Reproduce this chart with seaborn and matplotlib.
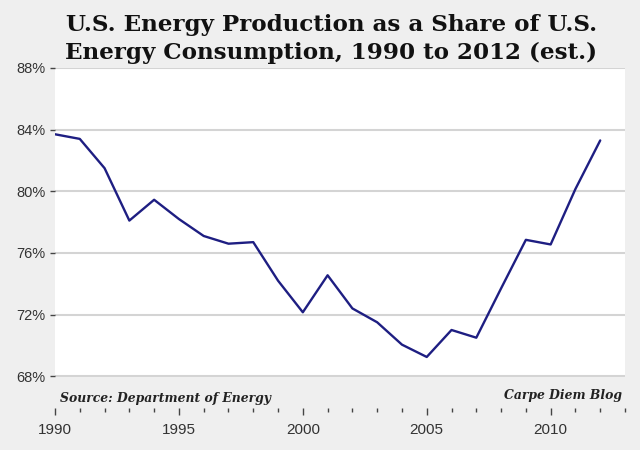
import matplotlib
matplotlib.use("Agg")
import matplotlib.pyplot as plt
import numpy as np
import pandas as pd
import seaborn as sns
from matplotlib.ticker import MultipleLocator, FuncFormatter

# ---- data ----
years = list(range(1990, 2013))
share = [83.7, 83.4, 81.5, 78.1, 79.45, 78.2, 77.1, 76.6, 76.7, 74.2,
         72.15, 74.55, 72.4, 71.5, 70.05, 69.25, 71.0, 70.5, 73.7, 76.85,
         76.55, 80.15, 83.3]
y_ticks = [68, 72, 76, 80, 84, 88]
x_ticks = [1990, 1995, 2000, 2005, 2010]
title_text = "U.S. Energy Production as a Share of U.S.\nEnergy Consumption, 1990 to 2012 (est.)"
source_text = "Source: Department of Energy"
credit_text = "Carpe Diem Blog"

df = pd.DataFrame({"year": years, "share": share})

sns.set_theme(style="white")
plt.rcParams["font.family"] = ["Liberation Sans", "DejaVu Sans"]

PX = 0.72  # points per pixel at dpi=100

fig = plt.figure(figsize=(6.4, 4.5), dpi=100, facecolor="#efefef")
ax = fig.add_axes([55 / 640, 1 - 377 / 450, 570 / 640, 309 / 450])
ax.set_facecolor("white")

sns.lineplot(data=df, x="year", y="share", ax=ax, color="#1e1e82",
             linewidth=1.7, zorder=3)

ax.set_xlim(1990, 2013)
ax.set_ylim(67.95, 88)
ax.set_xlabel("")
ax.set_ylabel("")

for s in ax.spines.values():
    s.set_visible(False)
ax.spines["bottom"].set_position(("outward", 31 * PX))

ax.set_xticks(x_ticks)
ax.xaxis.set_minor_locator(MultipleLocator(1))
ax.set_yticks(y_ticks)
ax.yaxis.set_major_formatter(FuncFormatter(lambda v, p: f"{v:.0f}%"))

ax.tick_params(axis="x", which="major", bottom=True, length=7 * PX, width=1,
               color="#444444", direction="out", pad=6, labelsize=11,
               labelcolor="#333333")
ax.tick_params(axis="x", which="minor", bottom=True, length=4 * PX, width=1,
               color="#444444", direction="out")
ax.tick_params(axis="y", which="major", left=True, length=5 * PX, width=1,
               color="#444444", direction="out", pad=3, labelsize=10.5,
               labelcolor="#333333")

ax.yaxis.grid(True, color="#d4d4d4", linewidth=1.5, zorder=0)
ax.xaxis.grid(False)

fig.text(0.518, 1 - 39 / 450, title_text, ha="center", va="center",
         family="DejaVu Serif", weight="bold", size=16.6, linespacing=1.3,
         color="#111111")
fig.text(60 / 640, 1 - 402 / 450, source_text, ha="left", va="baseline",
         family="DejaVu Serif", style="italic", weight="bold", size=8.9,
         color="#222222")
fig.text(622 / 640, 1 - 399.5 / 450, credit_text, ha="right", va="baseline",
         family="DejaVu Serif", style="italic", weight="bold", size=8.9,
         color="#222222")

fig.savefig("out.png", dpi=100, facecolor=fig.get_facecolor())
